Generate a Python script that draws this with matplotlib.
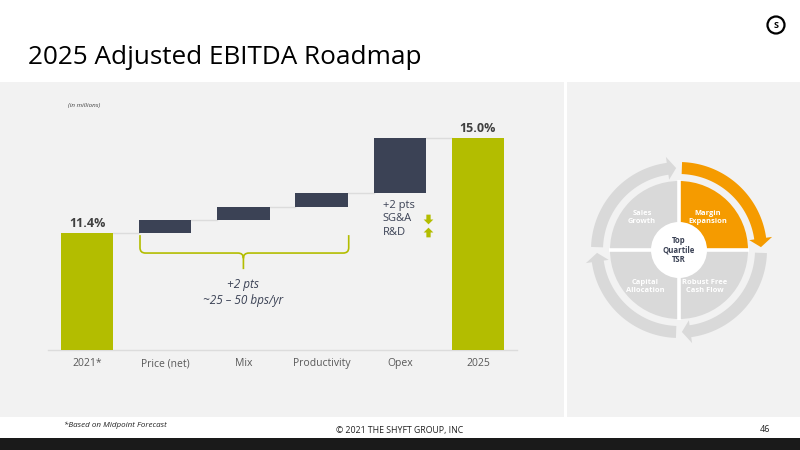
import matplotlib
matplotlib.use("Agg")
import matplotlib.pyplot as plt
import numpy as np
from matplotlib.patches import Rectangle, Wedge, Polygon, Circle, PathPatch
from matplotlib.path import Path

# ---------------- data ----------------
categories = ["2021*", "Price (net)", "Mix", "Productivity", "Opex", "2025"]
start_value = 11.4
deltas = [0.5, 0.5, 0.5, 2.1]
end_value = 15.0
value_labels = ["11.4%", "15.0%"]
brace_labels = ["+2 pts", "~25 – 50 bps/yr"]
opex_labels = ["+2 pts", "SG&A", "R&D"]
quadrant_labels = ["Margin\nExpansion", "Sales\nGrowth", "Capital\nAllocation", "Robust Free\nCash Flow"]
center_label = "Top\nQuartile\nTSR"

# ---------------- style ----------------
GREEN = "#b3bd00"
NAVY = "#3b4255"
PANEL = "#f2f2f2"
LIGHT = "#d9d9d9"
ORANGE = "#f59b00"
TXT = "#404040"
FONT = ["Open Sans", "DejaVu Sans"]
plt.rcParams["font.family"] = FONT

W, H = 800, 450
fig = plt.figure(figsize=(8, 4.5), dpi=100)
fig.patch.set_facecolor("white")


def px_rect(x0, y0, x1, y1):
    return [x0 / W, 1 - y1 / H, (x1 - x0) / W, (y1 - y0) / H]


# background / decoration axes in pixel coordinates
bg = fig.add_axes([0, 0, 1, 1], zorder=0)
bg.set_xlim(0, W)
bg.set_ylim(H, 0)
bg.axis("off")
bg.add_patch(Rectangle((0, 82), 564, 335, color=PANEL, lw=0))
bg.add_patch(Rectangle((567, 82), 233, 335, color=PANEL, lw=0))
bg.add_patch(Rectangle((0, 438), 800, 12, color="#1a1a1a", lw=0))
bg.text(28, 64, "2025 Adjusted EBITDA Roadmap", fontsize=18.8, color="black",
        ha="left", va="baseline")
bg.add_patch(Circle((776, 25), 8.5, facecolor="white", edgecolor="black", lw=1.6))
bg.text(776, 25.5, "S", fontsize=6.5, weight="bold", ha="center", va="center")
bg.text(68, 105, "(in millions)", fontsize=4.5, style="italic", color=TXT,
        ha="left", va="center")
bg.text(64, 425, "*Based on Midpoint Forecast", fontsize=5.8, style="italic",
        color="#222222", ha="left", va="center")
bg.text(400, 430, "© 2021 THE SHYFT GROUP, INC", fontsize=6.3,
        color="#222222", ha="center", va="center")
bg.text(765, 430, "46", fontsize=6.5, color="#222222", ha="center", va="center")

# ---------------- waterfall chart ----------------
ax = fig.add_axes(px_rect(48, 90, 517, 350), zorder=2)
ax.set_facecolor("none")
ymin = 6.966
ax.set_xlim(-0.5, 5.5)
ax.set_ylim(ymin, ymin + 260 / 26.39)

x = np.arange(len(categories))
bw = 0.67
cum = start_value + np.cumsum(deltas)
bottoms = cum - np.array(deltas)

ax.bar(x[0], start_value - ymin, bottom=ymin, width=bw, color=GREEN, zorder=3)
ax.bar(x[-1], end_value - ymin, bottom=ymin, width=bw, color=GREEN, zorder=3)
ax.bar(x[1:5], deltas, bottom=bottoms, width=bw, color=NAVY, zorder=3)

levels = [start_value] + list(cum)
for i, lv in enumerate(levels):
    ax.plot([x[i] + bw / 2, x[i + 1] - bw / 2], [lv, lv], color="#dcdcdc", lw=1, zorder=2)

for xi, val, lab in [(x[0], start_value, value_labels[0]), (x[-1], end_value, value_labels[1])]:
    ax.annotate(lab, (xi, val), xytext=(0, 2.5), textcoords="offset points",
                ha="center", va="bottom", fontsize=9, weight="bold", color=TXT)

for s in ["top", "right", "left"]:
    ax.spines[s].set_visible(False)
ax.spines["bottom"].set_color("#dcdcdc")
ax.spines["bottom"].set_linewidth(1)
ax.set_xticks(x)
ax.set_xticklabels(categories, fontsize=7.5, color="#595959")
ax.tick_params(axis="x", length=0, pad=6)
ax.set_yticks([])

# brace under price/mix/productivity
xl = x[1] - bw / 2 + 0.012
xr = x[3] + bw / 2 + 0.012
xc = (x[1] + x[3]) / 2
ytop = start_value - 0.08
yh = start_value - 0.76
ytip = start_value - 1.37
rx, ry = 0.07, 0.2
verts = [(xl, ytop), (xl, yh + ry), (xl, yh), (xl + rx, yh), (xc - rx, yh), (xc, yh), (xc, yh - ry), (xc, ytip),
         (xr, ytop), (xr, yh + ry), (xr, yh), (xr - rx, yh), (xc + rx, yh), (xc, yh), (xc, yh - ry)]
codes = [Path.MOVETO, Path.LINETO, Path.CURVE3, Path.CURVE3, Path.LINETO, Path.CURVE3, Path.CURVE3, Path.LINETO,
         Path.MOVETO, Path.LINETO, Path.CURVE3, Path.CURVE3, Path.LINETO, Path.CURVE3, Path.CURVE3]
ax.add_patch(PathPatch(Path(verts, codes), facecolor="none", edgecolor=GREEN, lw=1.2, zorder=4))
ax.text(xc, start_value - 1.97, brace_labels[0], fontsize=8.5, style="italic", color=NAVY,
        ha="center", va="center")
ax.text(xc, start_value - 2.54, brace_labels[1], fontsize=8.5, style="italic", color=NAVY,
        ha="center", va="center")

# opex annotation
tx = x[4] - bw / 2 + 0.115
ax.text(tx, 12.46, opex_labels[0], fontsize=8, color=NAVY, ha="left", va="center")
ax.text(tx, 11.94, opex_labels[1], fontsize=8, color=NAVY, ha="left", va="center")
ax.text(tx, 11.43, opex_labels[2], fontsize=8, color=NAVY, ha="left", va="center")
down = Path([(-0.22, 0.5), (0.22, 0.5), (0.22, 0.0), (0.5, 0.0), (0.0, -0.5), (-0.5, 0.0), (-0.22, 0.0), (-0.22, 0.5)],
            [Path.MOVETO] + [Path.LINETO] * 6 + [Path.CLOSEPOLY])
up = Path([(vx, -vy) for vx, vy in down.vertices], down.codes)
ax.plot([x[4] + 0.36], [11.94], marker=down, ms=7, color=GREEN, mec=GREEN, mew=0)
ax.plot([x[4] + 0.36], [11.43], marker=up, ms=7, color=GREEN, mec=GREEN, mew=0)

# ---------------- cycle diagram ----------------
cx, cy = 679, 250
rax = fig.add_axes(px_rect(567, 82, 800, 417), zorder=2)
rax.set_xlim(567 - cx, 800 - cx)
rax.set_ylim(cy - 417, cy - 82)
rax.axis("off")

R = 69
quad_angles = [(0, 90), (90, 180), (180, 270), (270, 360)]
quad_colors = [ORANGE, LIGHT, LIGHT, LIGHT]
for (a0, a1), c in zip(quad_angles, quad_colors):
    rax.add_patch(Wedge((0, 0), R, a0, a1, color=c, lw=0))
rax.plot([-R - 1, R + 1], [0, 0], color="white", lw=2.6, solid_capstyle="butt")
rax.plot([0, 0], [-R - 1, R + 1], color="white", lw=2.6, solid_capstyle="butt")
rax.add_patch(Circle((0, 0), 28, color="white", lw=0))


def arc_arrow(tail, tip, color, r_in=76, r_out=88, head_deg=6, h_in=71, h_out=94):
    base = tip + head_deg
    t1 = np.radians(np.linspace(tail, base, 60))
    pts = [(r_out * np.cos(t), r_out * np.sin(t)) for t in t1]
    b = np.radians(base)
    tp = np.radians(tip)
    rm = (r_in + r_out) / 2
    pts += [(h_out * np.cos(b), h_out * np.sin(b)), (rm * np.cos(tp), rm * np.sin(tp)),
            (h_in * np.cos(b), h_in * np.sin(b))]
    pts += [(r_in * np.cos(t), r_in * np.sin(t)) for t in t1[::-1]]
    rax.add_patch(Polygon(pts, closed=True, color=color, lw=0))


for (a0, a1), c in zip(quad_angles, quad_colors):
    arc_arrow(a1 - 2, a1 - 88, c)

quad_pos = [(29, 32.6), (-37, 32.6), (-34, -36.4), (26, -36.4)]
for (qx, qy), lab in zip(quad_pos, quadrant_labels):
    rax.text(qx, qy, lab, fontsize=5.4, weight="bold", color="white", ha="center", va="center",
             linespacing=1.15)
rax.text(0, 0, center_label, fontsize=5.6, weight="bold", color=NAVY, ha="center", va="center",
         linespacing=1.1)

fig.savefig("out.png", dpi=100, facecolor="white")
